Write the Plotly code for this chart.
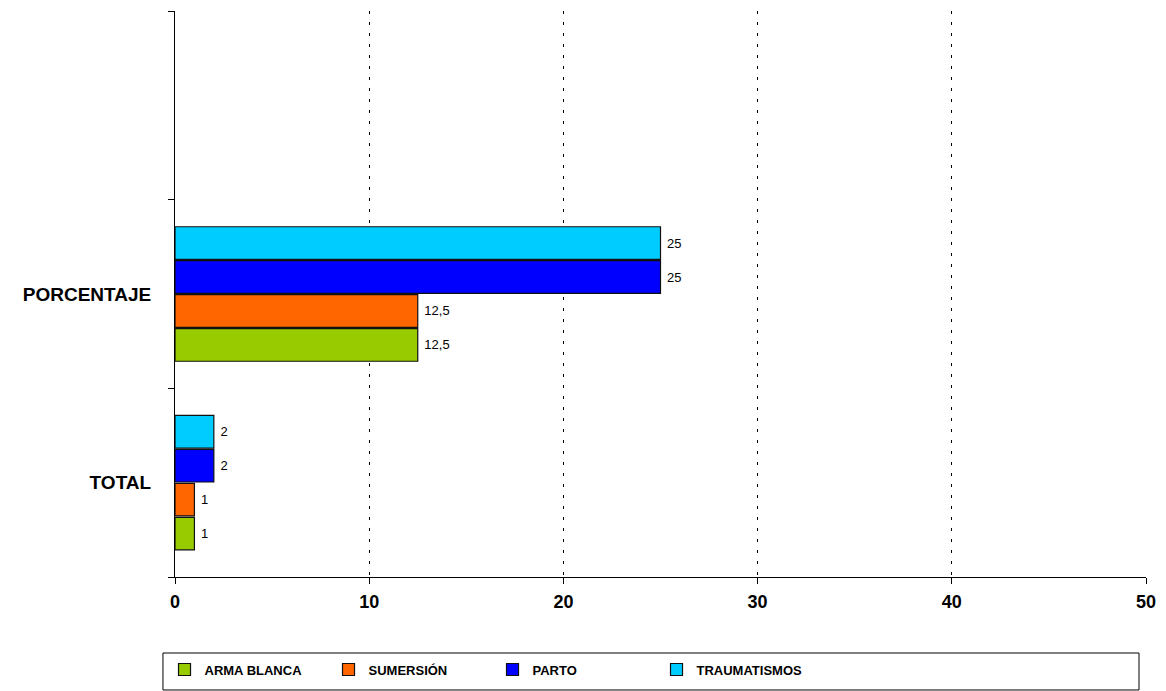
"""
Horizontal grouped bar chart: causes by TOTAL and PORCENTAJE.
"""
import plotly.graph_objects as go

categories = ["TOTAL", "PORCENTAJE"]
slots = ["TOTAL", "PORCENTAJE", " "]

series_names = ["ARMA BLANCA", "SUMERSIÓN", "PARTO", "TRAUMATISMOS"]
arma_blanca = [1, 12.5]
sumersion = [1, 12.5]
parto = [2, 25]
traumatismos = [2, 25]

colors = ["#99CC00", "#FF6600", "#0000FF", "#00CCFF"]

x_ticks = [0, 10, 20, 30, 40, 50]

FONT = "Arial, Liberation Sans, sans-serif"


def label(v):
    s = f"{v:g}".replace(".", ",")
    return "\u00a0" + s


fig = go.Figure()
for name, values, color in zip(series_names, [arma_blanca, sumersion, parto, traumatismos], colors):
    fig.add_trace(
        go.Bar(
            y=categories,
            x=values,
            orientation="h",
            name=name,
            marker=dict(color=color, line=dict(color="#111111", width=1.2)),
            text=[label(v) for v in values],
            textposition="outside",
            textfont=dict(family=FONT, size=13, color="black"),
            cliponaxis=False,
        )
    )

fig.update_layout(
    width=1166,
    height=691,
    margin=dict(l=175, r=20, t=11, b=114, autoexpand=False),
    paper_bgcolor="white",
    plot_bgcolor="white",
    barmode="group",
    bargap=0.28,
    bargroupgap=0.04,
    font=dict(family=FONT, color="black"),
    showlegend=True,
    legend=dict(
        orientation="h",
        x=-0.0108,
        y=-0.137,
        xanchor="left",
        yanchor="top",
        traceorder="normal",
        entrywidth=119,
        entrywidthmode="pixels",
        font=dict(family=FONT, size=13, color="black", weight="bold"),
        bgcolor="rgba(0,0,0,0)",
    ),
    xaxis=dict(
        range=[0, 50],
        tickvals=x_ticks,
        ticks="outside",
        ticklen=6,
        tickcolor="black",
        ticklabelstandoff=2,
        tickfont=dict(family=FONT, size=18, color="black", weight="bold"),
        showline=True,
        linecolor="black",
        linewidth=1,
        showgrid=True,
        gridcolor="black",
        griddash="3px,8px",
        gridwidth=1.2,
        zeroline=False,
        automargin=False,
    ),
    yaxis=dict(
        type="category",
        categoryorder="array",
        categoryarray=slots,
        range=[-0.5, 2.5],
        tickson="boundaries",
        ticks="outside",
        ticklen=6,
        tickcolor="black",
        ticklabelstandoff=19,
        tickfont=dict(family=FONT, size=19, color="black", weight="bold"),
        showline=True,
        linecolor="black",
        linewidth=1,
        showgrid=False,
        zeroline=False,
        automargin=False,
    ),
)

# legend frame
fig.add_shape(
    type="rect",
    xref="paper",
    yref="paper",
    x0=-0.0124,
    x1=0.9928,
    y0=-0.1996,
    y1=-0.1343,
    line=dict(color="black", width=1),
    fillcolor="rgba(0,0,0,0)",
)

fig.write_html(
    "out.html",
    config={"displayModeBar": False},
    post_script="document.body.style.margin='0';",
)
